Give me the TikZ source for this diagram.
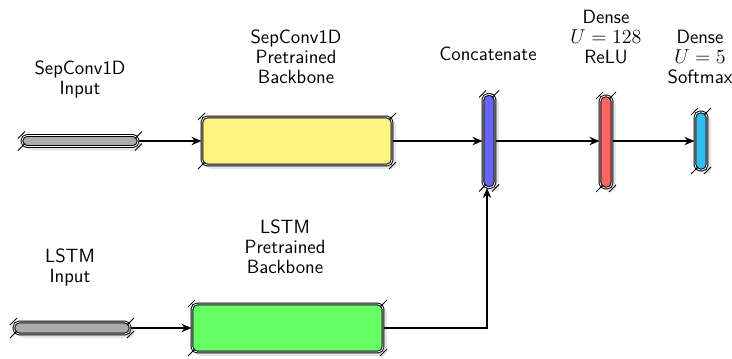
\documentclass[tikz,border=0pt]{standalone}
\usetikzlibrary{shadows,arrows.meta}
\definecolor{ingray}{RGB}{172,172,172}
\definecolor{byellow}{RGB}{255,244,130}
\definecolor{bgreen}{RGB}{102,255,102}
\definecolor{cblue}{RGB}{102,102,240}
\definecolor{dred}{RGB}{255,100,100}
\definecolor{dcyan}{RGB}{50,190,240}
\tikzset{
  layer/.style={draw=black, line width=0.6pt, double=white, double distance=0.5pt,
    rounded corners=3pt, inner sep=0pt,
    drop shadow={opacity=0.2, shadow xshift=2.5pt, shadow yshift=-2.5pt}},
  lbl/.style={align=center, font=\sffamily\fontsize{11.5}{12}\selectfont},
  conn/.style={line width=0.9pt, -{Stealth[length=6pt,width=5pt]}},
  tick/.style={line width=0.5pt}
}
\begin{document}
\begin{tikzpicture}[x=0.6pt,y=-0.6pt]
\useasboundingbox (0,0) rectangle (732,358);
% nodes
\node[layer, fill=ingray, minimum width=69.6pt, minimum height=6.6pt] (in1) at (80,141) {};
\node[layer, fill=byellow, minimum width=114pt, minimum height=28.8pt] (bb1) at (297,141) {};
\node[layer, fill=cblue, minimum width=7.2pt, minimum height=55.8pt] (cat) at (489,141) {};
\node[layer, fill=dred, minimum width=7.2pt, minimum height=55.2pt] (d1) at (606,142) {};
\node[layer, fill=dcyan, minimum width=7.2pt, minimum height=34.8pt] (d2) at (701,141) {};
\node[layer, fill=ingray, minimum width=69.6pt, minimum height=7.2pt] (in2) at (72,328) {};
\node[layer, fill=bgreen, minimum width=114.6pt, minimum height=28.8pt] (bb2) at (287.5,328) {};
% corner ticks
\foreach \n in {in1,bb1,cat,d1,d2,in2,bb2}{
  \foreach \c in {north west,north east,south west,south east}{
    \draw[tick] ([shift={(-3.5,3.5)}]\n.\c) -- ([shift={(3.5,-3.5)}]\n.\c);
  }
}
% labels
\node[lbl] (l1) at (80,80) {SepConv1D\\Input};
\node[lbl] (l2) at (296,57) {SepConv1D\\Pretrained\\Backbone};
\node[lbl] (l3) at (488,54) {Concatenate};
\node[lbl] (l4) at (606,37) {Dense\\$U=128$\\ReLU};
\node[lbl] (l5) at (700,57) {Dense\\$U=5$\\Softmax};
\node[lbl] (l6) at (70,268) {LSTM\\Input};
\node[lbl] (l7) at (285,247) {LSTM\\Pretrained\\Backbone};
% connectors
\draw[conn] (in1.east) -- (bb1.west);
\draw[conn] (bb1.east) -- (cat.west);
\draw[conn] (cat.east |- bb1.east) -- (d1.west |- bb1.east);
\draw[conn] (d1.east |- bb1.east) -- (d2.west);
\draw[conn] (in2.east) -- (bb2.west);
\draw[conn] (bb2.east) -| ([xshift=-1.2pt]cat.south);
\end{tikzpicture}
\end{document}
